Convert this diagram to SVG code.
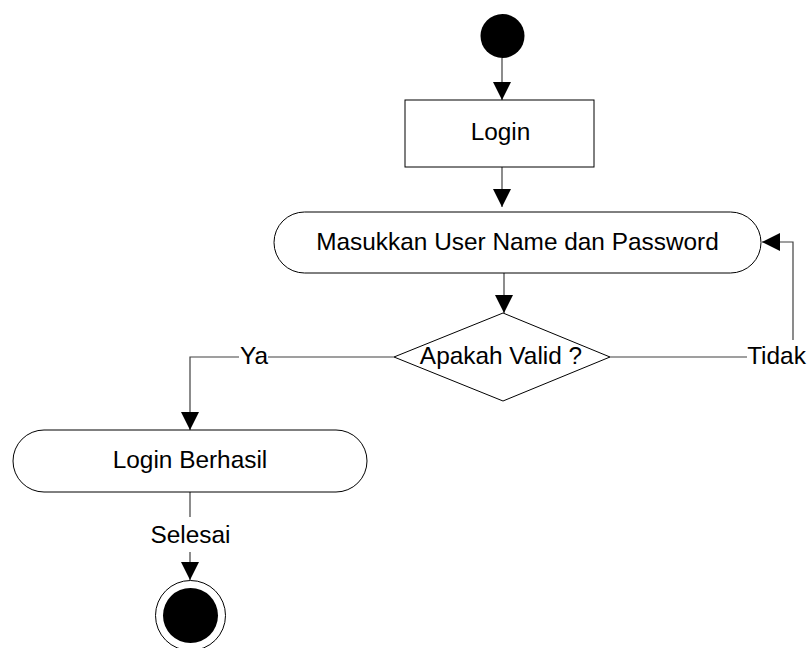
<svg xmlns="http://www.w3.org/2000/svg" width="808" height="648" viewBox="0 0 808 648">
<style>
  .shape { fill: #ffffff; stroke: #000000; stroke-width: 1; }
  .conn { fill: none; stroke: #404040; stroke-width: 1.2; }
  .lbl { font-family: "Liberation Sans", Arial, sans-serif; font-size: 24.4px; fill: #000000; text-anchor: middle; }
</style>
<defs>
  <marker id="arrow" markerUnits="userSpaceOnUse" markerWidth="18" markerHeight="18" viewBox="0 0 16 16" refX="16" refY="8" orient="auto">
    <path d="M0,0 L16,8 L0,16 Z" fill="#000000"/>
  </marker>
</defs>
<rect width="808" height="648" fill="#ffffff"/>
<g id="connectors">
  <path class="conn" d="M502,58 L502,100" marker-end="url(#arrow)"/>
  <path class="conn" d="M502,167 L502,207" marker-end="url(#arrow)"/>
  <path class="conn" d="M504,273 L504,313" marker-end="url(#arrow)"/>
  <path class="conn" d="M610,357 L747,357"/>
  <path class="conn" d="M793,340 L793,242 L762,242" marker-end="url(#arrow)"/>
  <text class="lbl" x="776.5" y="364">Tidak</text>
  <path class="conn" d="M394,357 L268,357"/>
  <text class="lbl" x="254" y="364">Ya</text>
  <path class="conn" d="M239,357 L190,357 L190,430" marker-end="url(#arrow)"/>
  <path class="conn" d="M190,492 L190,517"/>
  <text class="lbl" x="190.5" y="543">Selesai</text>
  <path class="conn" d="M190,552 L190,580" marker-end="url(#arrow)"/>
</g>
<g id="start">
  <circle cx="502.5" cy="36" r="22" fill="#000000"/>
</g>
<g id="login">
  <rect class="shape" x="405" y="100" width="189" height="67"/>
  <text class="lbl" x="500.5" y="140">Login</text>
</g>
<g id="masukkan">
  <rect class="shape" x="274" y="212" width="487" height="61" rx="30.5" ry="30.5"/>
  <text class="lbl" x="517.5" y="250">Masukkan User Name dan Password</text>
</g>
<g id="decision">
  <polygon class="shape" points="503,313 610,357 503,401 394,357"/>
  <text class="lbl" x="501" y="364">Apakah Valid ?</text>
</g>
<g id="berhasil">
  <rect class="shape" x="13" y="430" width="354" height="62" rx="31" ry="31"/>
  <text class="lbl" x="190" y="468">Login Berhasil</text>
</g>
<g id="end">
  <circle cx="190.5" cy="615.5" r="35" fill="#ffffff" stroke="#000000" stroke-width="1"/>
  <circle cx="190.5" cy="615.5" r="27.5" fill="#000000"/>
</g>
</svg>
